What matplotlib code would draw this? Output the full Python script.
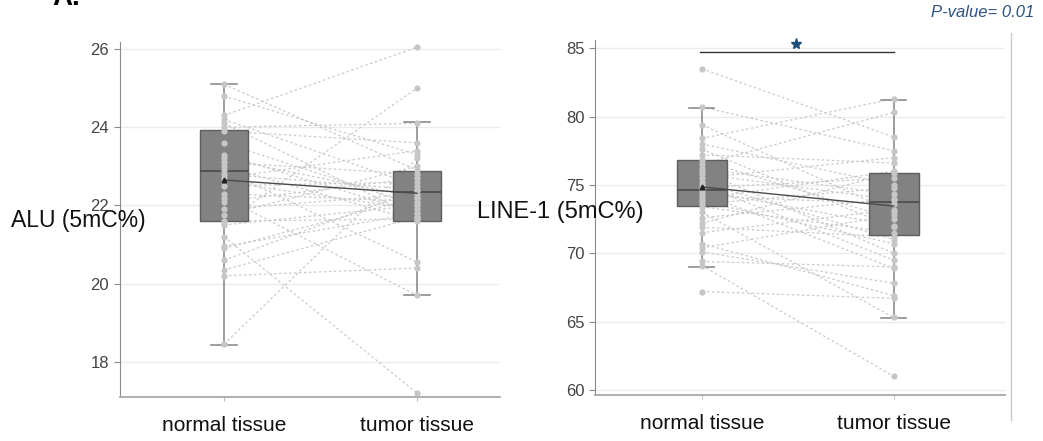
import matplotlib
matplotlib.use("Agg")
import matplotlib.pyplot as plt
from matplotlib.lines import Line2D

plt.rcParams['font.family'] = ['Liberation Sans', 'DejaVu Sans']

groups = ["normal tissue", "tumor tissue"]

# ALU paired samples (normal -> tumor)
alu_normal = [25.1, 24.8, 24.3, 24.2, 24.1, 24.0, 23.9, 23.6, 23.3, 23.2, 23.1, 23.0,
              22.9, 22.8, 22.7, 22.6, 22.5, 22.3, 22.2, 22.1, 21.9, 21.75, 21.6, 21.55,
              21.5, 21.2, 20.95, 20.9, 20.6, 20.35, 20.2, 18.45]
alu_tumor = [22.9, 23.3, 26.05, 22.5, 21.7, 24.1, 23.6, 22.0, 21.8, 22.2, 22.8, 21.6,
             20.55, 22.4, 23.4, 21.9, 22.6, 22.1, 19.7, 22.7, 22.3, 23.0, 21.65, 25.0,
             22.0, 17.2, 21.8, 22.2, 22.4, 21.7, 20.4, 23.2]

# ALU box statistics
alu_q1 = [21.6, 21.6]
alu_med = [22.89, 22.34]
alu_q3 = [23.93, 22.88]
alu_whislo = [18.43, 19.71]
alu_whishi = [25.1, 24.13]
alu_mean = [22.65, 22.31]

# LINE-1 paired samples (normal -> tumor)
line_normal = [83.5, 80.7, 79.4, 78.4, 78.0, 77.6, 77.2, 76.8, 76.5, 76.2, 76.0, 75.8,
               75.5, 75.2, 75.0, 74.8, 74.6, 74.4, 74.2, 74.0, 73.8, 73.6, 73.4, 73.0,
               72.6, 72.2, 71.9, 71.5, 70.7, 70.4, 70.1, 69.4, 69.1, 67.2]
line_tumor = [78.5, 77.5, 73.0, 81.3, 75.0, 71.9, 76.6, 72.5, 80.3, 74.3, 70.0, 73.9,
              77.0, 71.0, 69.5, 75.5, 72.0, 68.9, 73.6, 76.0, 70.7, 74.8, 71.5, 65.3,
              74.0, 75.9, 71.2, 73.2, 66.9, 72.8, 67.8, 69.0, 61.0, 66.7]

# LINE-1 box statistics
line_q1 = [73.47, 71.33]
line_med = [74.6, 73.77]
line_q3 = [76.8, 75.84]
line_whislo = [69.0, 65.24]
line_whishi = [80.64, 81.2]
line_mean = [74.85, 73.45]

alu_ticks = [18, 20, 22, 24, 26]
line_ticks = [60, 65, 70, 75, 80, 85]
p_text = "P-value= 0.01"

fig = plt.figure(figsize=(10.43, 4.41), dpi=100)
ax1 = fig.add_axes([0.1146, 0.0998, 0.3648, 0.805])
ax2 = fig.add_axes([0.5705, 0.1043, 0.3931, 0.805])


def draw_panel(ax, normal, tumor, q1, med, q3, wlo, whi, mean, ticks, ylim, xlim, width):
    xs = [0, 1]
    for a, b in zip(normal, tumor):
        ax.plot(xs, [a, b], color="#cacaca", lw=0.9, ls=(0, (2, 2)), zorder=1)
    stats = []
    for i in range(2):
        stats.append(dict(med=med[i], q1=q1[i], q3=q3[i], whislo=wlo[i], whishi=whi[i],
                          fliers=[]))
    ax.bxp(stats, positions=xs, widths=width, patch_artist=True, showfliers=False,
           boxprops=dict(facecolor="#828282", edgecolor="#5e5e5e", lw=1),
           medianprops=dict(color="#4a4a4a", lw=1.2),
           whiskerprops=dict(color="#8c8c8c", lw=1.2),
           capprops=dict(color="#8c8c8c", lw=1.2), capwidths=0.13, zorder=2)
    ax.plot([0] * len(normal), normal, "o", color="#c6c6c6", ms=4.5, mec="none", zorder=3)
    ax.plot([1] * len(tumor), tumor, "o", color="#c6c6c6", ms=4.5, mec="none", zorder=3)
    ax.plot(xs, mean, color="#4a4a4a", lw=1, zorder=4)
    ax.plot([0], [mean[0]], marker="^", color="#222222", ms=3.5, zorder=5)
    ax.set_ylim(*ylim)
    ax.set_xlim(*xlim)
    ax.set_yticks(ticks)
    ax.set_xticks(xs)
    ax.set_xticklabels(groups, fontsize=15)
    ax.yaxis.grid(True, color="#ebebeb", lw=1)
    ax.set_axisbelow(True)
    for s in ["top", "right"]:
        ax.spines[s].set_visible(False)
    ax.spines["left"].set_color("#8a8a8a")
    ax.spines["bottom"].set_color("#a8a8a8")
    ax.spines["bottom"].set_linewidth(1.3)
    ax.tick_params(axis="y", colors="#8a8a8a", labelcolor="#444444", labelsize=12, length=4)
    ax.tick_params(axis="x", colors="#bbbbbb", labelcolor="#111111", length=3, pad=11)


draw_panel(ax1, alu_normal, alu_tumor, alu_q1, alu_med, alu_q3, alu_whislo, alu_whishi,
           alu_mean, alu_ticks, (17.1, 26.18), (-0.541, 1.43), 0.25)
draw_panel(ax2, line_normal, line_tumor, line_q1, line_med, line_q3, line_whislo,
           line_whishi, line_mean, line_ticks, (59.63, 85.6), (-0.557, 1.58), 0.26)

# significance bar
ax2.plot([-0.01, 1.0], [84.75, 84.75], color="#333333", lw=1, clip_on=False)
ax2.plot([0.49], [85.3], marker="*", color="#1f4e79", ms=8, clip_on=False)

fig.text(0.0748, 0.501, "ALU (5mC%)", fontsize=16.5, ha="center", va="center", color="#111111")
fig.text(0.537, 0.519, "LINE-1 (5mC%)", fontsize=17, ha="center", va="center", color="#111111")
fig.text(0.992, 0.972, p_text, fontsize=12, style="italic", ha="right", va="center",
         color="#2e5283")
fig.text(0.05, 1.005, "A.", fontsize=20, fontweight="bold", ha="left", va="center")
fig.add_artist(Line2D([1011 / 1043, 1011 / 1043], [1 - 33 / 441, 1 - 420 / 441],
                      color="#c8c8c8", lw=1))

fig.savefig("out.png", dpi=100)
